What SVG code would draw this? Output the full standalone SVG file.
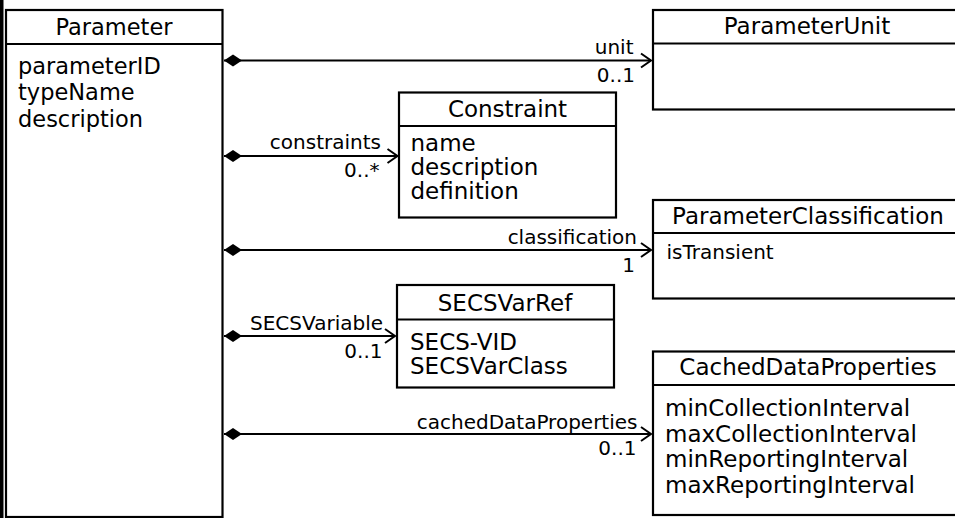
<svg xmlns="http://www.w3.org/2000/svg" width="955" height="518" viewBox="0 0 955 518">
<style>
text{font-family:"DejaVu Sans","Verdana",sans-serif;fill:#000}
.box{fill:#fff;stroke:#000;stroke-width:2.2}
.div{stroke:#000;stroke-width:2.2}
.hd{font-size:23px;text-anchor:middle}
.at{font-size:23px}
.sm{font-size:20px}
.lbl{font-size:20px;text-anchor:end}
.conn{stroke:#000;stroke-width:2;fill:none;marker-start:url(#dia);marker-end:url(#arr)}
</style>
<defs>
<marker id="dia" markerUnits="userSpaceOnUse" viewBox="-2 -8 22 16" markerWidth="22" markerHeight="16" refX="0" refY="0" orient="auto">
<path d="M0,0 L9,-6 L18,0 L9,6 Z" fill="#000"/>
</marker>
<marker id="arr" markerUnits="userSpaceOnUse" viewBox="-14 -10 16 20" markerWidth="16" markerHeight="20" refX="0" refY="0" orient="auto">
<path d="M-10,-7 L0,0 L-10,7" fill="none" stroke="#000" stroke-width="2"/>
</marker>
</defs>
<rect x="0" y="0" width="955" height="518" fill="#fff"/>
<rect x="0" y="0" width="3.5" height="518" fill="#000"/>

<g id="connectors">
<path class="conn" d="M224,60.5 H651"/>
<path class="conn" d="M224,156 H397.5"/>
<path class="conn" d="M224,250 H651"/>
<path class="conn" d="M224,336 H395"/>
<path class="conn" d="M224,434 H651"/>
<text class="lbl" x="633.5" y="54">unit</text>
<text class="lbl" x="635" y="81.5">0..1</text>
<text class="lbl" x="381" y="149">constraints</text>
<text class="lbl" x="379.5" y="177">0..*</text>
<text class="lbl" x="637" y="244">classification</text>
<text class="lbl" x="635" y="271.5">1</text>
<text class="lbl" x="383" y="330">SECSVariable</text>
<text class="lbl" x="382.5" y="357.5">0..1</text>
<text class="lbl" x="637.5" y="429">cachedDataProperties</text>
<text class="lbl" x="636.5" y="455">0..1</text>
</g>

<g id="Parameter">
<rect class="box" x="6" y="10" width="216.5" height="507"/>
<line class="div" x1="6" y1="44" x2="222.5" y2="44"/>
<text class="hd" x="114" y="35" style="font-size:22.5px">Parameter</text>
<text class="at" x="18" y="74" style="font-size:22.5px">parameterID</text>
<text class="at" x="18" y="100" style="font-size:22.5px">typeName</text>
<text class="at" x="18" y="126.5" style="font-size:22.5px">description</text>
</g>

<g id="ParameterUnit">
<rect class="box" x="653" y="10" width="310" height="99.5"/>
<line class="div" x1="653" y1="43.5" x2="963" y2="43.5"/>
<text class="hd" x="807" y="33.5">ParameterUnit</text>
</g>

<g id="Constraint">
<rect class="box" x="399" y="92.5" width="217" height="125"/>
<line class="div" x1="399" y1="126" x2="616" y2="126"/>
<text class="hd" x="507.5" y="116.5">Constraint</text>
<text class="at" x="410.5" y="150.5">name</text>
<text class="at" x="410.5" y="175">description</text>
<text class="at" x="410.5" y="198.5">definition</text>
</g>

<g id="ParameterClassification">
<rect class="box" x="653" y="200" width="310" height="98.5"/>
<line class="div" x1="653" y1="233" x2="963" y2="233"/>
<text class="hd" x="808" y="223.5">ParameterClassification</text>
<text class="sm" x="666.5" y="258.5">isTransient</text>
</g>

<g id="SECSVarRef">
<rect class="box" x="397" y="285" width="217" height="102.5"/>
<line class="div" x1="397" y1="319.5" x2="614" y2="319.5"/>
<text class="hd" x="505" y="310.5">SECSVarRef</text>
<text class="at" x="410" y="350">SECS-VID</text>
<text class="at" x="410" y="373.5">SECSVarClass</text>
</g>

<g id="CachedDataProperties">
<rect class="box" x="653" y="351.5" width="310" height="163.5"/>
<line class="div" x1="653" y1="385" x2="963" y2="385"/>
<text class="hd" x="808" y="375">CachedDataProperties</text>
<text class="at" x="665" y="416">minCollectionInterval</text>
<text class="at" x="665" y="441.5">maxCollectionInterval</text>
<text class="at" x="665" y="467">minReportingInterval</text>
<text class="at" x="665" y="493">maxReportingInterval</text>
</g>
</svg>
